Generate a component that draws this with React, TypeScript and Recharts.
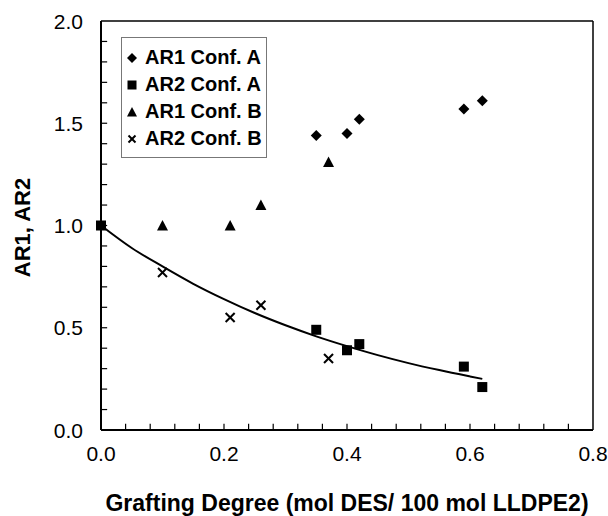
import React from 'react';
import { ScatterChart, Scatter, XAxis, YAxis, ReferenceLine, Legend, Label } from 'recharts';

// AR1 / AR2 vs grafting degree
const ar1ConfAX = [0.35, 0.4, 0.42, 0.59, 0.62];
const ar1ConfAY = [1.44, 1.45, 1.52, 1.57, 1.61];
const ar2ConfAX = [0, 0.35, 0.4, 0.42, 0.59, 0.62];
const ar2ConfAY = [1.0, 0.49, 0.39, 0.42, 0.31, 0.21];
const ar1ConfBX = [0.1, 0.21, 0.26, 0.37];
const ar1ConfBY = [1.0, 1.0, 1.1, 1.31];
const ar2ConfBX = [0.1, 0.21, 0.26, 0.37];
const ar2ConfBY = [0.77, 0.55, 0.61, 0.35];

// fitted curve, points
const fitX = [0, 0.05, 0.1, 0.15, 0.2, 0.25, 0.3, 0.35, 0.4, 0.45, 0.5, 0.55, 0.6, 0.62];
const fitY = [1.0, 0.89, 0.8, 0.715, 0.64, 0.572, 0.512, 0.458, 0.41, 0.366, 0.327, 0.293, 0.262, 0.25];

const xTicks = [0, 0.04, 0.08, 0.12, 0.16, 0.2, 0.24, 0.28, 0.32, 0.36, 0.4, 0.44, 0.48, 0.52, 0.56, 0.6, 0.64, 0.68, 0.72, 0.76, 0.8];
const xLabels = [0, 0.2, 0.4, 0.6, 0.8];
const yTicks = [0, 0.1, 0.2, 0.3, 0.4, 0.5, 0.6, 0.7, 0.8, 0.9, 1, 1.1, 1.2, 1.3, 1.4, 1.5, 1.6, 1.7, 1.8, 1.9, 2];
const yLabels = [0, 0.5, 1, 1.5, 2];

const legendNames = ['AR1 Conf. A', 'AR2 Conf. A', 'AR1 Conf. B', 'AR2 Conf. B'];

const FONT = '"Liberation Sans", Arial, Helvetica, sans-serif';

const zip = (xs: number[], ys: number[]) => xs.map((x, i) => ({ x, y: ys[i] }));

const diamond = (cx: number, cy: number, r = 5.5) => (
  <polygon points={`${cx},${cy - r} ${cx + r},${cy} ${cx},${cy + r} ${cx - r},${cy}`} fill="#000" />
);
const square = (cx: number, cy: number, s = 10) => (
  <rect x={cx - s / 2} y={cy - s / 2} width={s} height={s} fill="#000" />
);
const triangle = (cx: number, cy: number, w = 11) => (
  <polygon points={`${cx},${cy - w / 2} ${cx + w / 2},${cy + w / 2 - 0.5} ${cx - w / 2},${cy + w / 2 - 0.5}`} fill="#000" />
);
const cross = (cx: number, cy: number, r = 4.5) => (
  <g stroke="#000" strokeWidth={2}>
    <line x1={cx - r} y1={cy - r} x2={cx + r} y2={cy + r} />
    <line x1={cx - r} y1={cy + r} x2={cx + r} y2={cy - r} />
  </g>
);

const legendMarkers = [
  (c: number) => diamond(c, c, 5),
  (c: number) => square(c, c, 9),
  (c: number) => triangle(c, c, 10),
  (c: number) => cross(c, c, 3.5),
];

const isLabel = (v: number, list: number[]) => list.some((l) => Math.abs(l - v) < 1e-6);

const XTick = (props: any) => {
  const { x, y, payload } = props;
  if (!isLabel(payload.value, xLabels)) return <g />;
  return (
    <text x={x} y={y + 31} textAnchor="middle" fontSize={21} fill="#000" fontFamily={FONT}>
      {payload.value.toFixed(1)}
    </text>
  );
};

const YTick = (props: any) => {
  const { x, y, payload } = props;
  if (!isLabel(payload.value, yLabels)) return <g />;
  return (
    <text x={x - 18} y={y + 7.5} textAnchor="end" fontSize={21} fill="#000" fontFamily={FONT}>
      {payload.value.toFixed(1)}
    </text>
  );
};

const LegendBox = () => (
  <div
    style={{
      border: '1px solid #777',
      boxSizing: 'border-box',
      width: 146,
      height: 121,
      paddingTop: 6,
      background: '#fff',
      fontFamily: FONT,
    }}
  >
    {legendNames.map((name, i) => (
      <div key={name} style={{ display: 'flex', alignItems: 'center', height: 27, paddingLeft: 3 }}>
        <svg width={14} height={14}>
          {legendMarkers[i](7)}
        </svg>
        <span style={{ marginLeft: 6, fontSize: 20, fontWeight: 'bold', color: '#000', lineHeight: '27px' }}>{name}</span>
      </div>
    ))}
  </div>
);

export default function App() {
  return (
    <div style={{ position: 'absolute', left: 0, top: 0, width: 608, height: 516, background: '#fff' }}>
      <ScatterChart width={608} height={516} margin={{ top: 21, right: 15, bottom: 0, left: 0 }}>
        <XAxis
          type="number"
          dataKey="x"
          domain={[0, 0.8]}
          ticks={xTicks}
          interval={0}
          tick={<XTick />}
          tickLine={false}
          tickSize={0}
          tickMargin={0}
          height={86}
          axisLine={{ stroke: '#000', strokeWidth: 2 }}
        >
          <Label
            content={(p: any) => {
              const vb = p.viewBox;
              return (
                <text x={vb.x + vb.width / 2} y={vb.y + 81} textAnchor="middle" fontSize={23} fontWeight="bold" fill="#000" fontFamily={FONT}>
                  Grafting Degree (mol DES/ 100 mol LLDPE2)
                </text>
              );
            }}
          />
        </XAxis>
        <YAxis
          type="number"
          dataKey="y"
          domain={[0, 2]}
          ticks={yTicks}
          interval={0}
          tick={<YTick />}
          tickLine={false}
          tickSize={0}
          tickMargin={0}
          width={101}
          axisLine={{ stroke: '#000', strokeWidth: 2 }}
        >
          <Label
            content={(p: any) => {
              const vb = p.viewBox;
              const cx = vb.x + 22;
              const cy = vb.y + vb.height / 2 + 2;
              return (
                <text x={cx} y={cy} transform={`rotate(-90, ${cx}, ${cy})`} textAnchor="middle" dominantBaseline="central" fontSize={22} fontWeight="bold" fill="#000" fontFamily={FONT}>
                  AR1, AR2
                </text>
              );
            }}
          />
        </YAxis>
        <ReferenceLine y={2} stroke="#000" strokeWidth={1.5} />
        <ReferenceLine x={0.8} stroke="#000" strokeWidth={1.5} />
        {/* inward tick marks */}
        {xTicks.slice(1, -1).map((v) => (
          <ReferenceLine key={`xt${v}`} segment={[{ x: v, y: 0 }, { x: v, y: 0.03 }]} stroke="#000" strokeWidth={1.2} />
        ))}
        {yTicks.slice(1, -1).map((v) => (
          <ReferenceLine key={`yt${v}`} segment={[{ x: 0, y: v }, { x: 0.01, y: v }]} stroke="#000" strokeWidth={1.2} />
        ))}
        <Scatter
          data={zip(fitX, fitY)}
          line={{ stroke: '#000', strokeWidth: 2 }}
          lineJointType="monotoneX"
          shape={() => <g />}
          isAnimationActive={false}
          legendType="none"
        />
        <Scatter data={zip(ar1ConfAX, ar1ConfAY)} shape={(p: any) => diamond(p.cx, p.cy)} isAnimationActive={false} />
        <Scatter data={zip(ar2ConfAX, ar2ConfAY)} shape={(p: any) => square(p.cx, p.cy)} isAnimationActive={false} />
        <Scatter data={zip(ar1ConfBX, ar1ConfBY)} shape={(p: any) => triangle(p.cx, p.cy)} isAnimationActive={false} />
        <Scatter data={zip(ar2ConfBX, ar2ConfBY)} shape={(p: any) => cross(p.cx, p.cy)} isAnimationActive={false} />
        <Legend
          layout="vertical"
          align="center"
          verticalAlign="middle"
          content={<LegendBox />}
          wrapperStyle={{ left: 121, top: 37, width: 146, height: 121 }}
        />
      </ScatterChart>
    </div>
  );
}
